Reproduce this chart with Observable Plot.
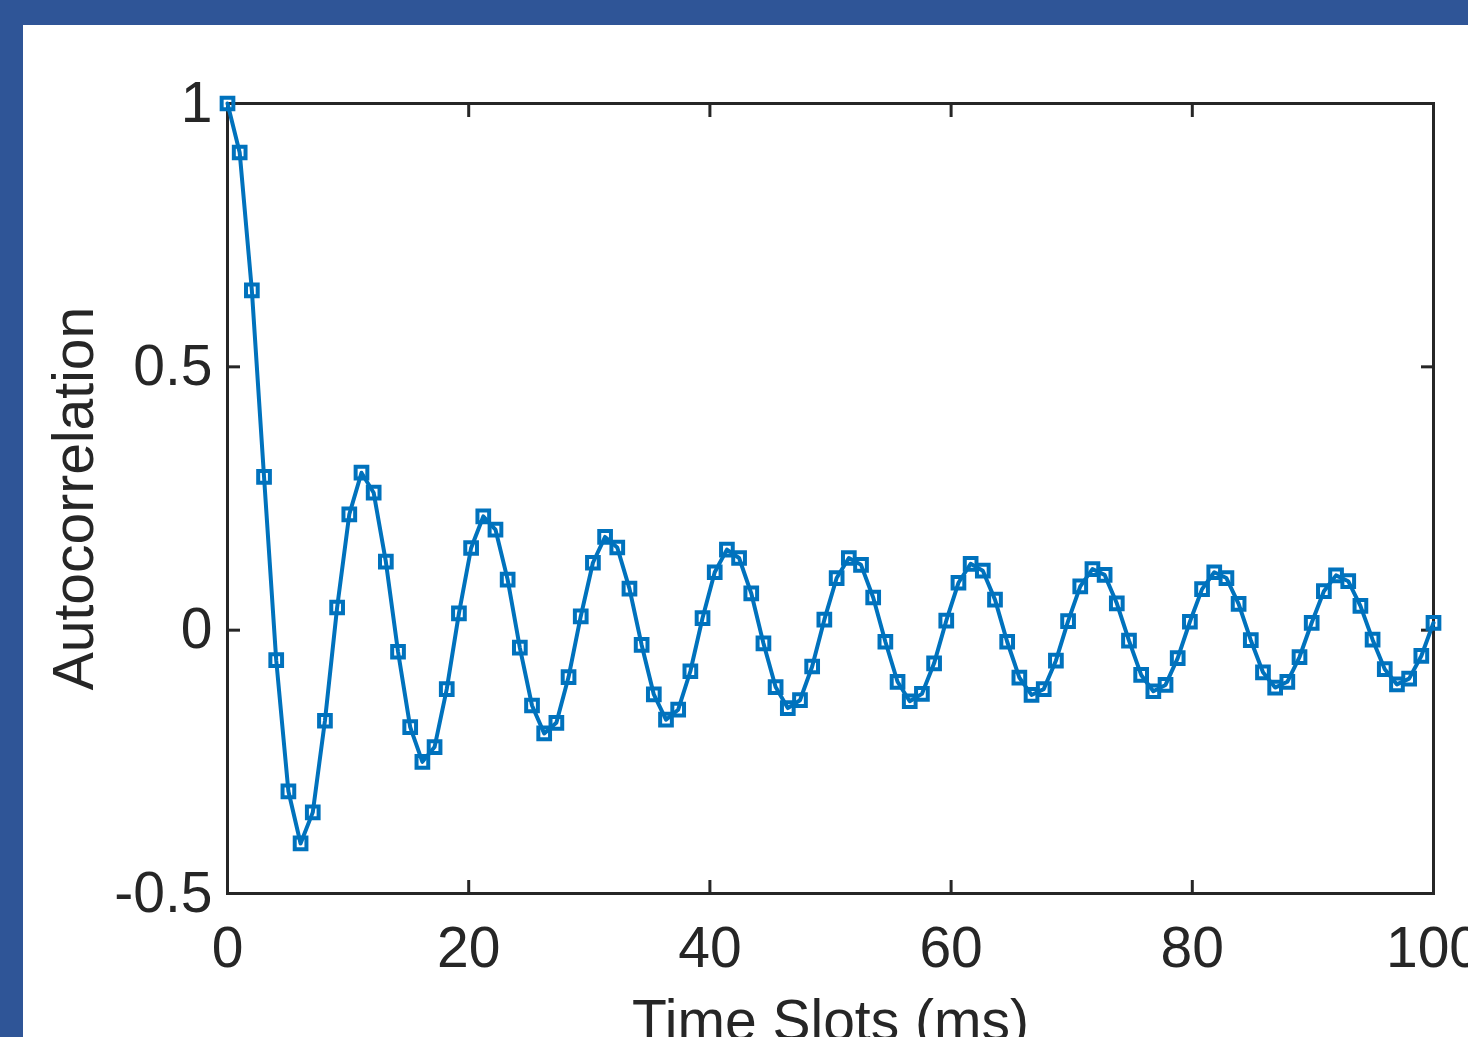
<!DOCTYPE html>
<html>
<head>
<meta charset="utf-8">
<script src="https://cdn.jsdelivr.net/npm/d3@7"></script>
<script src="https://cdn.jsdelivr.net/npm/@observablehq/plot@0.6"></script>
<style>
html, body { margin: 0; padding: 0; width: 1468px; height: 1037px; overflow: hidden; background: #2f5597; }
#panel { position: absolute; left: 23px; top: 25px; width: 1445px; height: 1012px; background: #ffffff; }
#chart { position: absolute; left: 0; top: 0; width: 1520px; height: 1100px; }
#chart svg { max-width: none !important; width: 1520px !important; height: 1100px !important; }
</style>
</head>
<body>
<div id="panel"></div>
<div id="chart"></div>
<script>
// Time slot positions (ms), 100 samples from 0 to 100
const timeSlots = [0, 1.01, 2.02, 3.03, 4.04, 5.05, 6.06, 7.07, 8.08, 9.09,
  10.10, 11.11, 12.12, 13.13, 14.14, 15.15, 16.16, 17.17, 18.18, 19.19,
  20.20, 21.21, 22.22, 23.23, 24.24, 25.25, 26.26, 27.27, 28.28, 29.29,
  30.30, 31.31, 32.32, 33.33, 34.34, 35.35, 36.36, 37.37, 38.38, 39.39,
  40.40, 41.41, 42.42, 43.43, 44.44, 45.45, 46.46, 47.47, 48.48, 49.49,
  50.51, 51.52, 52.53, 53.54, 54.55, 55.56, 56.57, 57.58, 58.59, 59.60,
  60.61, 61.62, 62.63, 63.64, 64.65, 65.66, 66.67, 67.68, 68.69, 69.70,
  70.71, 71.72, 72.73, 73.74, 74.75, 75.76, 76.77, 77.78, 78.79, 79.80,
  80.81, 81.82, 82.83, 83.84, 84.85, 85.86, 86.87, 87.88, 88.89, 89.90,
  90.91, 91.92, 92.93, 93.94, 94.95, 95.96, 96.97, 97.98, 98.99, 100];

// Autocorrelation values
const autocorrelation = [1.000, 0.907, 0.645, 0.291, -0.057, -0.306, -0.405, -0.346, -0.172, 0.043,
  0.220, 0.299, 0.261, 0.130, -0.041, -0.184, -0.250, -0.222, -0.112, 0.032,
  0.156, 0.216, 0.191, 0.096, -0.033, -0.143, -0.196, -0.176, -0.089, 0.026,
  0.128, 0.177, 0.157, 0.079, -0.028, -0.122, -0.170, -0.151, -0.078, 0.023,
  0.110, 0.153, 0.137, 0.070, -0.025, -0.108, -0.148, -0.133, -0.069, 0.020,
  0.099, 0.137, 0.124, 0.062, -0.022, -0.098, -0.135, -0.121, -0.063, 0.018,
  0.090, 0.126, 0.113, 0.058, -0.022, -0.090, -0.123, -0.112, -0.058, 0.017,
  0.083, 0.116, 0.105, 0.051, -0.020, -0.085, -0.116, -0.104, -0.053, 0.016,
  0.078, 0.110, 0.099, 0.050, -0.019, -0.080, -0.109, -0.098, -0.051, 0.014,
  0.074, 0.104, 0.093, 0.046, -0.018, -0.074, -0.103, -0.092, -0.049, 0.014];

const xTicks = [0, 20, 40, 60, 80, 100];
const yTicks = [-0.5, 0, 0.5, 1];
const xLabel = "Time Slots (ms)";
const yLabel = "Autocorrelation";

const data = timeSlots.map((t, i) => ({t, r: autocorrelation[i]}));

const axisColor = "#262626";
const lineColor = "#0072BD";

const chart = Plot.plot({
  width: 1520,
  height: 1100,
  marginLeft: 227,
  marginRight: 87,
  marginTop: 103,
  marginBottom: 207,
  style: {background: "transparent", fontFamily: "'Liberation Sans', Arial, sans-serif", fontSize: "57px", color: axisColor, maxWidth: "none"},
  x: {domain: [0, 100]},
  y: {domain: [-0.5, 1]},
  marks: [
    Plot.frame({stroke: axisColor, strokeWidth: 3}),
    Plot.axisX({ticks: xTicks, tickSize: -13, tickPadding: 46, strokeWidth: 3, stroke: axisColor,
      tickFormat: d => String(d), label: xLabel, labelAnchor: "center", labelArrow: "none", labelOffset: 146}),
    Plot.axisX({anchor: "top", ticks: xTicks, tickSize: -13, strokeWidth: 3, stroke: axisColor,
      tickFormat: () => "", label: null}),
    Plot.axisY({ticks: yTicks, tickSize: -13, tickPadding: 28, strokeWidth: 3, stroke: axisColor,
      tickFormat: d => String(d), label: yLabel, labelAnchor: "center", labelArrow: "none", labelOffset: 175}),
    Plot.axisY({anchor: "right", ticks: yTicks, tickSize: -13, strokeWidth: 3, stroke: axisColor,
      tickFormat: () => "", label: null}),
    Plot.line(data, {x: "t", y: "r", stroke: lineColor, strokeWidth: 4}),
    Plot.dot(data, {x: "t", y: "r", symbol: "square", r: 6.6, stroke: lineColor, strokeWidth: 4, fill: "none"})
  ]
});
document.getElementById("chart").appendChild(chart);
</script>
</body>
</html>
